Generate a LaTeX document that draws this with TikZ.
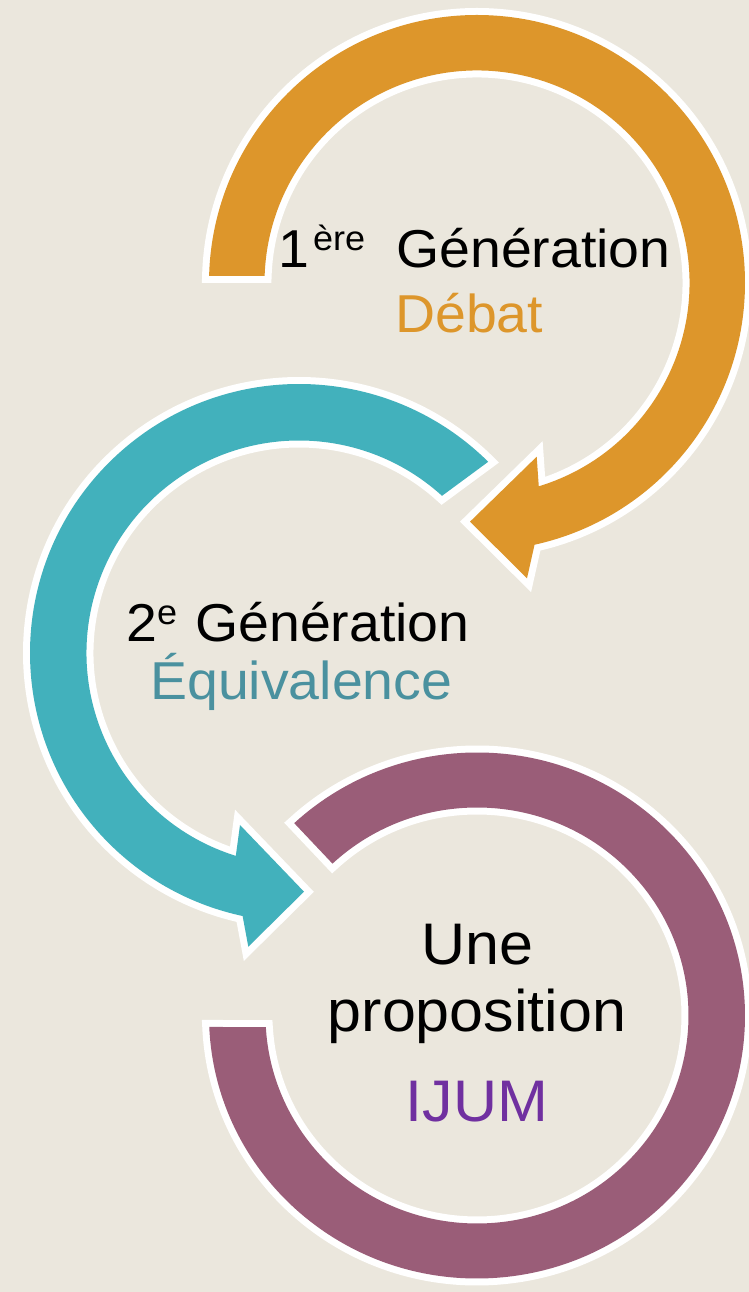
\documentclass[tikz,border=0pt]{standalone}
\usepackage{fontspec}
\setmainfont[FakeStretch=1.04]{Liberation Sans}

\definecolor{fond}{RGB}{235,231,221}
\definecolor{ocre}{RGB}{221,150,43}
\definecolor{turq}{RGB}{66,177,188}
\definecolor{mauve}{RGB}{154,93,120}
\definecolor{bleugris}{RGB}{74,145,159}
\definecolor{ijumviolet}{RGB}{112,48,160}

\newcommand\expo[1]{\raisebox{13pt}{\fontsize{26}{30}\selectfont #1}}

\begin{document}
\begin{tikzpicture}[x=0.75pt,y=0.75pt,
    fleche/.style={fill=#1,preaction={draw=white,line width=10.5pt,line join=miter}},
    titre/.style={anchor=base west,inner sep=0pt,font=\fontsize{40}{48}\selectfont},
    prop/.style={anchor=base,inner sep=0pt,font=\fontsize{44}{52}\selectfont}]

    \path[use as bounding box,fill=fond] (0,0) rectangle (749,1292);

    \coordinate (c1) at (477,1009);
    \coordinate (c2) at (299,639);
    \coordinate (c3) at (477,276.5);

    \fill[fleche=ocre] ([shift={(178.5:268)}]c1) arc[start angle=178.5,end angle=-77.6,radius=268]
        -- (527,713.7) -- (470,770.3) -- (536.7,835.3)
        -- ([shift={(-73.1:212.5)}]c1) arc[start angle=-73.1,end angle=178.1,radius=212.5] -- cycle;
    \fill[fleche=turq] ([shift={(45.3:269)}]c2) arc[start angle=45.3,end angle=257.9,radius=269]
        -- (248.3,345.3) -- (304,400.3) -- (240,467)
        -- ([shift={(252.7:212.5)}]c2) arc[start angle=252.7,end angle=47.7,radius=212.5] -- cycle;
    \fill[fleche=mauve] ([shift={(182.5:268 and 263)}]c3) arc[start angle=182.5,end angle=493,x radius=268,y radius=263]
        -- ([shift={(493.1:211.5 and 208)}]c3) arc[start angle=493.1,end angle=183.2,x radius=211.5,y radius=208] -- cycle;

    \node[titre]                (rang1) at (278,1024) {1\kern3pt\expo{ère}};
    \node[titre]                (gen1)  at (396,1024) {Génération};
    \node[titre,text=ocre]      (debat) at (395,959)  {Débat};
    \node[titre]                (rang2) at (126,650)  {2\expo{e}};
    \node[titre]                (gen2)  at (195,650)  {Génération};
    \node[titre,text=bleugris]  (equi)  at (150,592)  {Équivalence};
    \node[prop]                 (une)   at (477,327)  {Une};
    \node[prop]                 (propo) at (477,260)  {proposition};
    \node[prop,text=ijumviolet] (ijum)  at (477,170)  {IJUM};

\end{tikzpicture}
\end{document}
